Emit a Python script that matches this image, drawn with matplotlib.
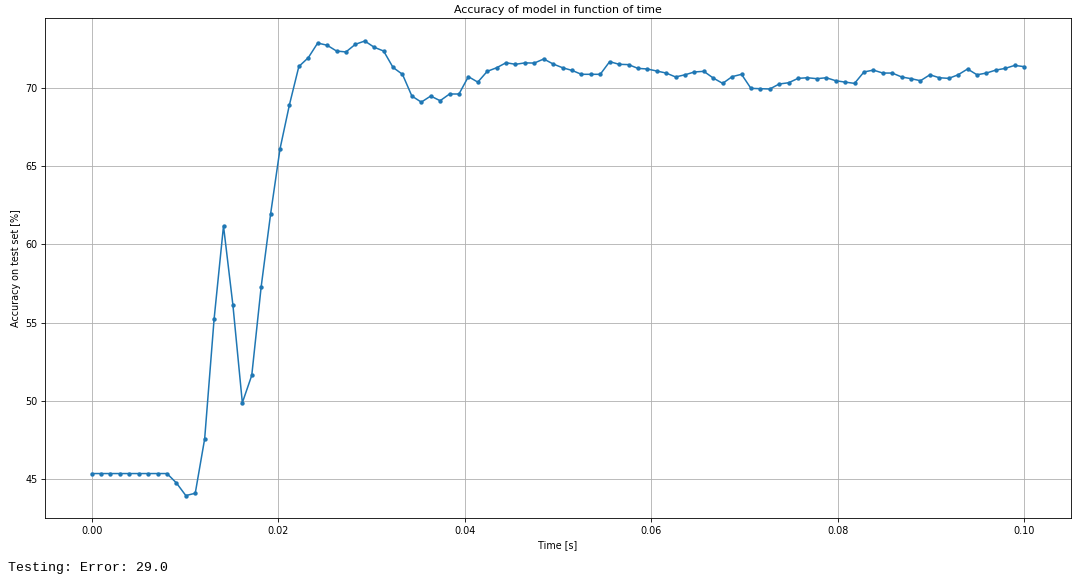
import numpy as np
import matplotlib
matplotlib.use("Agg")
import matplotlib.pyplot as plt

# 100 samples evenly spaced over 0..0.1 s
time_start = 0.0
time_end = 0.1
n_samples = 100

accuracy = [
    45.34, 45.34, 45.34, 45.34, 45.34, 45.34, 45.34, 45.34, 45.34, 44.74,
    43.93, 44.08, 47.56, 55.21, 61.18, 56.11, 49.87, 51.62, 57.29, 61.94,
    66.11, 68.93, 71.38, 71.94, 72.88, 72.74, 72.37, 72.31, 72.80, 73.01,
    72.61, 72.37, 71.32, 70.88, 69.49, 69.10, 69.49, 69.19, 69.62, 69.62,
    70.73, 70.38, 71.07, 71.30, 71.62, 71.52, 71.61, 71.60, 71.86, 71.54,
    71.30, 71.13, 70.88, 70.88, 70.88, 71.69, 71.52, 71.50, 71.26, 71.22,
    71.09, 70.96, 70.71, 70.85, 71.03, 71.07, 70.64, 70.30, 70.73, 70.88,
    69.98, 69.96, 69.94, 70.26, 70.34, 70.62, 70.66, 70.60, 70.66, 70.47,
    70.38, 70.30, 71.03, 71.15, 70.96, 70.96, 70.71, 70.60, 70.47, 70.85,
    70.66, 70.62, 70.85, 71.22, 70.85, 70.96, 71.15, 71.26, 71.45, 71.37,
]

error_text = "Testing: Error: 29.0"

time = np.linspace(time_start, time_end, n_samples)

plt.rcParams['font.family'] = ['DejaVu Sans']
plt.rcParams['font.size'] = 7

fig = plt.figure(figsize=(10.9, 5.86), dpi=100)
ax = fig.add_axes([0.0413, 0.1155, 0.941, 0.8533])

ax.plot(time, accuracy, marker='.', color='#1f77b4', linewidth=1.1, markersize=4.3)
ax.grid(True, color='#b0b0b0', linewidth=0.6)

ax.set_title("Accuracy of model in function of time", fontsize=7.9, pad=4)
ax.set_xlabel("Time [s]", fontsize=6.9, labelpad=3)
ax.set_ylabel("Accuracy on test set [%]", fontsize=6.9, labelpad=3)
ax.tick_params(labelsize=6.9, width=0.6, length=3, pad=2.5)
for s in ax.spines.values():
    s.set_linewidth(0.6)

fig.text(0.007, 0.031, error_text, family='Liberation Mono', fontsize=9.5, va='center')

fig.savefig("out.png", dpi=100)
